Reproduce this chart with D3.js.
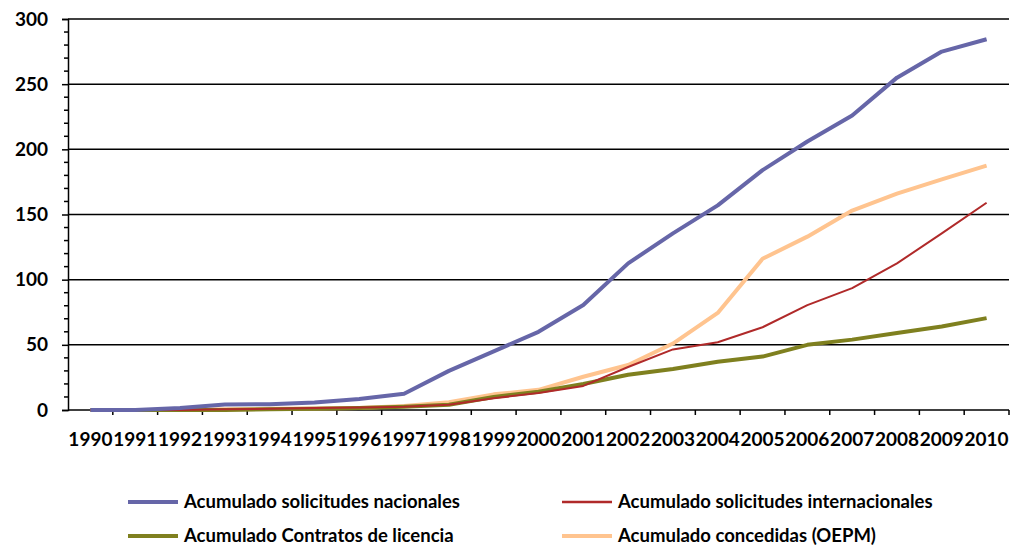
<!DOCTYPE html>
<html><head><meta charset="utf-8">
<script src="https://cdn.jsdelivr.net/npm/d3@7"></script>
<style>body{margin:0;background:#fff;}svg{display:block;}</style>
</head><body>
<svg id="c" width="1015" height="547"></svg>
<script>
const years = ["1990","1991","1992","1993","1994","1995","1996","1997","1998","1999","2000","2001","2002","2003","2004","2005","2006","2007","2008","2009","2010"];
const nacionales = [0,0,1.5,4.2,4.4,5.8,8.5,12.5,30,45,60,80.5,112.5,135.5,157,184,206,226,255,275,284.5];
const internacionales = [0,0,0,0.5,1,1.5,2,2.5,4,9,13,18.5,33,46.5,52,63.5,80.5,93.5,112.5,135.5,159];
const licencia = [0,0,0,0,0.5,1,1.5,2.5,4,10,14,20,27,31.5,37,41,50,54,59,64,70.5];
const concedidas = [0,0,0,0.5,1,1.2,1.5,3,6,12,15.5,25.5,34.5,51,74.5,116,133,153,166,177,187.5];
const yTicks = [0,50,100,150,200,250,300];
const seriesNames = ["Acumulado solicitudes nacionales","Acumulado solicitudes internacionales","Acumulado Contratos de licencia","Acumulado concedidas (OEPM)"];
const seriesColors = ["#6666a8","#b02a2a","#7f801f","#ffc48f"];
const seriesWidths = [4,2,4,4];
const seriesData = [nacionales, internacionales, licencia, concedidas];

const svg = d3.select("#c");
const L=68, R=1009, T=19, B=410;
const x = d3.scaleBand().domain(years).range([L,R]);
const y = d3.scaleLinear().domain([0,300]).range([B,T]);

// gridlines
svg.append("g").selectAll("line").data(yTicks.filter(d=>d>0)).join("line")
  .attr("x1",L).attr("x2",R).attr("y1",d=>y(d)).attr("y2",d=>y(d))
  .attr("stroke","#000").attr("stroke-width",1.5);

// y minor ticks
const minor = d3.range(0,301,10).filter(d=>d%50!==0);
svg.append("g").selectAll("line").data(minor).join("line")
  .attr("x1",L-4).attr("x2",L).attr("y1",d=>y(d)).attr("y2",d=>y(d))
  .attr("stroke","#000").attr("stroke-width",1.5);

// y axis
const yAxis = svg.append("g").attr("transform",`translate(${L},0)`)
  .call(d3.axisLeft(y).tickValues(yTicks).tickSize(6).tickPadding(14));
yAxis.select(".domain").attr("stroke","#000").attr("stroke-width",1.5);
yAxis.selectAll(".tick line").attr("stroke","#000").attr("stroke-width",1.5);
yAxis.selectAll("text").attr("font-family","Lato").attr("font-weight","bold").attr("font-size","19px").attr("fill","#000");

// x axis
const xAxis = svg.append("g").attr("transform",`translate(0,${B})`)
  .call(d3.axisBottom(x).tickSize(0).tickPadding(23));
xAxis.select(".domain").attr("stroke","#000").attr("stroke-width",1.5).attr("d",`M${L},0H${R}`);
xAxis.selectAll("text").attr("font-family","Lato").attr("font-weight","bold").attr("font-size","19px").attr("fill","#000");
// x ticks between categories
const bounds = years.map(d=>x(d)).concat([x(years[years.length-1])+x.bandwidth()]);
svg.append("g").selectAll("line").data(bounds.slice(1)).join("line")
  .attr("x1",d=>d).attr("x2",d=>d).attr("y1",B).attr("y2",B+5)
  .attr("stroke","#000").attr("stroke-width",1.5);

const line = d3.line().x((d,i)=>x(years[i])+x.bandwidth()/2).y(d=>y(d));
const order = [3,2,1,0];
order.forEach(k=>{
  svg.append("path").datum(seriesData[k]).attr("d",line)
    .attr("fill","none").attr("stroke",seriesColors[k]).attr("stroke-width",seriesWidths[k])
    .attr("stroke-linejoin","round");
});

// legend
const legPos = [[128,502],[562,502],[128,536],[562,536]];
seriesNames.forEach((n,k)=>{
  const [lx,ly]=legPos[k];
  svg.append("line").attr("x1",lx).attr("x2",lx+50).attr("y1",ly).attr("y2",ly)
    .attr("stroke",seriesColors[k]).attr("stroke-width",seriesWidths[k]===2?2.5:4);
  svg.append("text").attr("x",lx+56).attr("y",ly+6).text(n)
    .attr("font-family","Lato").attr("font-weight","bold").attr("font-size","18.5px").attr("fill","#000");
});
</script>
</body></html>
